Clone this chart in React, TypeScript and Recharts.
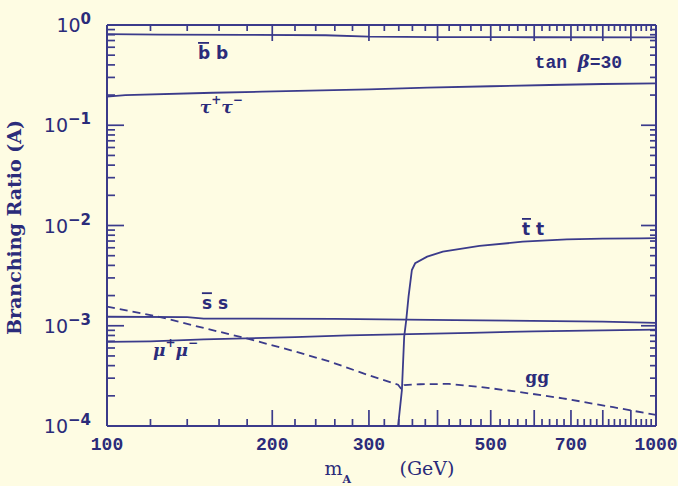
import React from 'react';
import { LineChart, Line, XAxis, YAxis, ReferenceDot, ReferenceLine, Label } from 'recharts';

const INK = '#2b2b7a';
const STROKE = '#3b3b8b';
const BG = '#fefce3';

// x axis (m_A, GeV) ticks
const xMajor = [100, 200, 300, 400, 500, 600, 700, 800, 900, 1000];
const xMinor = [120, 140, 160, 180, 220, 240, 260, 280, 320, 340, 360, 380, 420, 440, 460, 480, 520, 540, 560, 580,
  620, 640, 660, 680, 720, 740, 760, 780, 820, 840, 860, 880, 920, 940, 960, 980];
const xLabels = [100, 200, 300, 500, 700, 1000];

// y axis (branching ratio) ticks
const yMajor = [1e-4, 1e-3, 1e-2, 1e-1, 1];
const yMinor = [2e-4, 3e-4, 4e-4, 5e-4, 6e-4, 7e-4, 8e-4, 9e-4,
  2e-3, 3e-3, 4e-3, 5e-3, 6e-3, 7e-3, 8e-3, 9e-3,
  2e-2, 3e-2, 4e-2, 5e-2, 6e-2, 7e-2, 8e-2, 9e-2,
  2e-1, 3e-1, 4e-1, 5e-1, 6e-1, 7e-1, 8e-1, 9e-1];
const yExpLabels = ['\u22124', '\u22123', '\u22122', '\u22121', '0'];

// b-bbar
const bbM = [100, 125, 180, 250, 300, 400, 600, 1000];
const bbV = [0.81, 0.80, 0.797, 0.79, 0.765, 0.758, 0.755, 0.752];
// tau+ tau-
const tauM = [100, 108, 156, 192, 300, 383, 500, 640, 800, 1000];
const tauV = [0.193, 0.2, 0.211, 0.216, 0.228, 0.237, 0.245, 0.252, 0.258, 0.262];
// t-tbar
const ttM = [339, 344.5, 347.8, 350.8, 354.2, 359.2, 364.2, 383, 409, 477, 572, 688, 800, 935, 1000];
const ttV = [1e-4, 2.29e-4, 7.78e-4, 1.14e-3, 1.95e-3, 3.6e-3, 4.2e-3, 4.89e-3, 5.48e-3, 6.25e-3, 6.89e-3, 7.28e-3,
  7.4e-3, 7.45e-3, 7.5e-3];
// s-sbar
const ssM = [100, 140, 150, 260, 430, 800, 1000];
const ssV = [1.23e-3, 1.22e-3, 1.18e-3, 1.17e-3, 1.14e-3, 1.1e-3, 1.07e-3];
// mu+ mu-
const muM = [100, 120, 150, 220, 275, 460, 600, 800, 1000];
const muV = [6.9e-4, 7.0e-4, 7.3e-4, 7.7e-4, 8.0e-4, 8.5e-4, 8.8e-4, 9.0e-4, 9.15e-4];
// gg (dashed)
const ggM = [100, 125, 150, 181, 220, 255, 300, 339, 344, 348, 372, 420, 480, 558, 676, 836, 1000];
const ggV = [1.55e-3, 1.22e-3, 9.5e-4, 7.4e-4, 5.55e-4, 4.38e-4, 3.2e-4, 2.58e-4, 2.32e-4, 2.56e-4, 2.61e-4, 2.63e-4,
  2.45e-4, 2.2e-4, 1.89e-4, 1.54e-4, 1.29e-4];

// annotation anchors (left end of text baseline) in data coordinates
const annBB = { m: 146.5, v: 0.458 };
const annTau = { m: 147.6, v: 0.1334 };
const annTan = { m: 601, v: 0.372 };
const annTT = { m: 570, v: 8.04e-3 };
const annSS = { m: 148.9, v: 1.46e-3 };
const annMu = { m: 121.3, v: 5.0e-4 };
const annGG = { m: 578, v: 2.69e-4 };

const pts = (m: number[], v: number[]) => m.map((x, i) => ({ m: x, v: v[i] }));

const bbData = pts(bbM, bbV);
const tauData = pts(tauM, tauV);
const ttData = pts(ttM, ttV);
const ssData = pts(ssM, ssV);
const muData = pts(muM, muV);
const ggData = pts(ggM, ggV);

// plot box size in px, used to express inward tick-mark lengths in log units
const PLOT_W = 549;
const PLOT_H = 401;
const X_DECADES = 1;
const Y_DECADES = 4;
const xFac = (px: number) => Math.pow(10, (px / PLOT_W) * X_DECADES);
const yFac = (px: number) => Math.pow(10, (px / PLOT_H) * Y_DECADES);

type Seg = { key: string; a: { x: number; y: number }; b: { x: number; y: number } };
const tickSegs: Seg[] = [];
xMajor.forEach((v) => {
  tickSegs.push({ key: `bM${v}`, a: { x: v, y: 1e-4 }, b: { x: v, y: 1e-4 * yFac(16) } });
  tickSegs.push({ key: `tM${v}`, a: { x: v, y: 1 }, b: { x: v, y: 1 / yFac(16) } });
});
xMinor.forEach((v) => {
  tickSegs.push({ key: `bm${v}`, a: { x: v, y: 1e-4 }, b: { x: v, y: 1e-4 * yFac(7) } });
  tickSegs.push({ key: `tm${v}`, a: { x: v, y: 1 }, b: { x: v, y: 1 / yFac(6) } });
});
yMajor.forEach((v) => {
  tickSegs.push({ key: `lM${v}`, a: { x: 100, y: v }, b: { x: 100 * xFac(17), y: v } });
  tickSegs.push({ key: `rM${v}`, a: { x: 1000, y: v }, b: { x: 1000 / xFac(15), y: v } });
});
yMinor.forEach((v) => {
  tickSegs.push({ key: `lm${v}`, a: { x: 100, y: v }, b: { x: 100 * xFac(8), y: v } });
  tickSegs.push({ key: `rm${v}`, a: { x: 1000, y: v }, b: { x: 1000 / xFac(6), y: v } });
});

function BottomLabel(props: any) {
  const x = Number(props.x);
  const y = Number(props.y);
  return (
    <text x={x} y={y + 24} textAnchor="middle" fontFamily="Liberation Mono" fontWeight="bold" fontSize={18} fill={INK}>
      {props.payload.value}
    </text>
  );
}

function LeftLabel(props: any) {
  const x = Number(props.x);
  const y = Number(props.y);
  const v = props.payload.value;
  const idx = yMajor.findIndex((b) => Math.abs(v - b) / b < 1e-6);
  const exp = idx >= 0 ? yExpLabels[idx] : '';
  return (
    <text x={x - 16} y={y + 7} textAnchor="end" fontFamily="DejaVu Sans" fontSize={19} fill={INK}>
      10
      <tspan dy={-8} fontSize={15} fontWeight="bold">{exp}</tspan>
    </text>
  );
}

function BarPair({ cx, cy, ch }: { cx: number; cy: number; ch: string }) {
  const w = ch === 'b' ? 11 : ch === 's' ? 10 : 9;
  return (
    <g>
      <text x={cx} y={cy} fontFamily="DejaVu Sans" fontWeight="bold" fontSize={17} fill={INK}>
        {ch + ' ' + ch}
      </text>
      <rect x={cx} y={cy - 17} width={w} height={1.8} fill={INK} />
    </g>
  );
}

function PairPM({ cx, cy, sym }: { cx: number; cy: number; sym: string }) {
  return (
    <text x={cx} y={cy} fontFamily="DejaVu Serif" fontStyle="italic" fontWeight="bold" fontSize={17} fill={INK}>
      {sym}
      <tspan dy={-9} fontSize={12}>+</tspan>
      <tspan dy={9}>{sym}</tspan>
      <tspan dy={-9} fontSize={12}>{'\u2212'}</tspan>
    </text>
  );
}

function XTitle(props: any) {
  const vb = props.viewBox || { x: 107, y: 426, width: 549, height: 40 };
  const c = vb.x + vb.width / 2;
  const by = vb.y + 49;
  return (
    <g fill={INK} fontFamily="DejaVu Serif" fontSize={19}>
      <text x={c - 57} y={by}>
        m<tspan dy={8} fontSize={11} fontWeight="bold">A</tspan>
      </text>
      <text x={c + 18} y={by}>(GeV)</text>
    </g>
  );
}

function YTitle(props: any) {
  const vb = props.viewBox || { x: 47, y: 25, width: 60, height: 401 };
  const x = vb.x - 26;
  const y = vb.y + vb.height / 2 + 2;
  return (
    <text x={x} y={y} transform={`rotate(-90 ${x} ${y})`} textAnchor="middle" fontFamily="DejaVu Serif" fontWeight="bold"
      fontSize={19} fill={INK}>
      Branching Ratio (A)
    </text>
  );
}

const axisLine = { stroke: STROKE, strokeWidth: 2 };

export default function App() {
  return (
    <div style={{ width: 678, height: 486, background: BG }}>
      <style>{`body{margin:0;background:${BG};}`}</style>
      <LineChart width={678} height={486} margin={{ top: 15, right: 12, bottom: 20, left: 47 }}>
        <XAxis xAxisId="b" type="number" dataKey="m" scale="log" domain={[100, 1000]} ticks={xLabels} interval={0}
          tick={<BottomLabel />} tickLine={false} tickSize={0} tickMargin={0} height={40} axisLine={axisLine}
          allowDataOverflow>
          <Label content={<XTitle />} />
        </XAxis>
        <XAxis xAxisId="t" orientation="top" type="number" dataKey="m" scale="log" domain={[100, 1000]}
          ticks={xMajor} interval={0} tick={false} tickLine={false} height={10} axisLine={axisLine} allowDataOverflow />
        <YAxis yAxisId="l" type="number" dataKey="v" scale="log" domain={[1e-4, 1]} ticks={yMajor} interval={0}
          tick={<LeftLabel />} tickLine={false} tickSize={0} tickMargin={0} width={60} axisLine={axisLine}
          allowDataOverflow>
          <Label content={<YTitle />} />
        </YAxis>
        <YAxis yAxisId="r" orientation="right" type="number" dataKey="v" scale="log" domain={[1e-4, 1]} ticks={yMajor}
          interval={0} tick={false} tickLine={false} width={10} axisLine={axisLine} allowDataOverflow />

        {tickSegs.map((s) => (
          <ReferenceLine key={s.key} xAxisId="b" yAxisId="l" segment={[s.a, s.b]} stroke={STROKE} strokeWidth={1.7}
            ifOverflow="visible" />
        ))}

        <Line xAxisId="b" yAxisId="l" data={bbData} dataKey="v" stroke={STROKE} strokeWidth={1.8} dot={false}
          isAnimationActive={false} />
        <Line xAxisId="b" yAxisId="l" data={tauData} dataKey="v" stroke={STROKE} strokeWidth={1.8} dot={false}
          isAnimationActive={false} />
        <Line xAxisId="b" yAxisId="l" data={ttData} dataKey="v" stroke={STROKE} strokeWidth={1.8} dot={false}
          isAnimationActive={false} />
        <Line xAxisId="b" yAxisId="l" data={ssData} dataKey="v" stroke={STROKE} strokeWidth={1.8} dot={false}
          isAnimationActive={false} />
        <Line xAxisId="b" yAxisId="l" data={muData} dataKey="v" stroke={STROKE} strokeWidth={1.8} dot={false}
          isAnimationActive={false} />
        <Line xAxisId="b" yAxisId="l" data={ggData} dataKey="v" stroke={STROKE} strokeWidth={1.8} strokeDasharray="8 5"
          dot={false} isAnimationActive={false} />

        <ReferenceDot xAxisId="b" yAxisId="l" x={annBB.m} y={annBB.v} r={0}
          shape={(p: any) => <BarPair cx={p.cx} cy={p.cy} ch="b" />} />
        <ReferenceDot xAxisId="b" yAxisId="l" x={annSS.m} y={annSS.v} r={0}
          shape={(p: any) => <BarPair cx={p.cx} cy={p.cy} ch="s" />} />
        <ReferenceDot xAxisId="b" yAxisId="l" x={annTT.m} y={annTT.v} r={0}
          shape={(p: any) => <BarPair cx={p.cx} cy={p.cy} ch="t" />} />
        <ReferenceDot xAxisId="b" yAxisId="l" x={annTau.m} y={annTau.v} r={0}
          shape={(p: any) => <PairPM cx={p.cx} cy={p.cy} sym={'\u03C4'} />} />
        <ReferenceDot xAxisId="b" yAxisId="l" x={annMu.m} y={annMu.v} r={0}
          shape={(p: any) => <PairPM cx={p.cx} cy={p.cy} sym={'\u03BC'} />} />
        <ReferenceDot xAxisId="b" yAxisId="l" x={annGG.m} y={annGG.v} r={0}
          shape={(p: any) => (
            <text x={p.cx} y={p.cy} fontFamily="DejaVu Serif" fontWeight="bold" fontSize={17} fill={INK}>gg</text>
          )} />
        <ReferenceDot xAxisId="b" yAxisId="l" x={annTan.m} y={annTan.v} r={0}
          shape={(p: any) => (
            <text x={p.cx} y={p.cy} fontFamily="Liberation Mono" fontWeight="bold" fontSize={18} fill={INK}>
              tan <tspan fontFamily="DejaVu Serif" fontStyle="italic">{'\u03B2'}</tspan>=30
            </text>
          )} />
      </LineChart>
    </div>
  );
}
